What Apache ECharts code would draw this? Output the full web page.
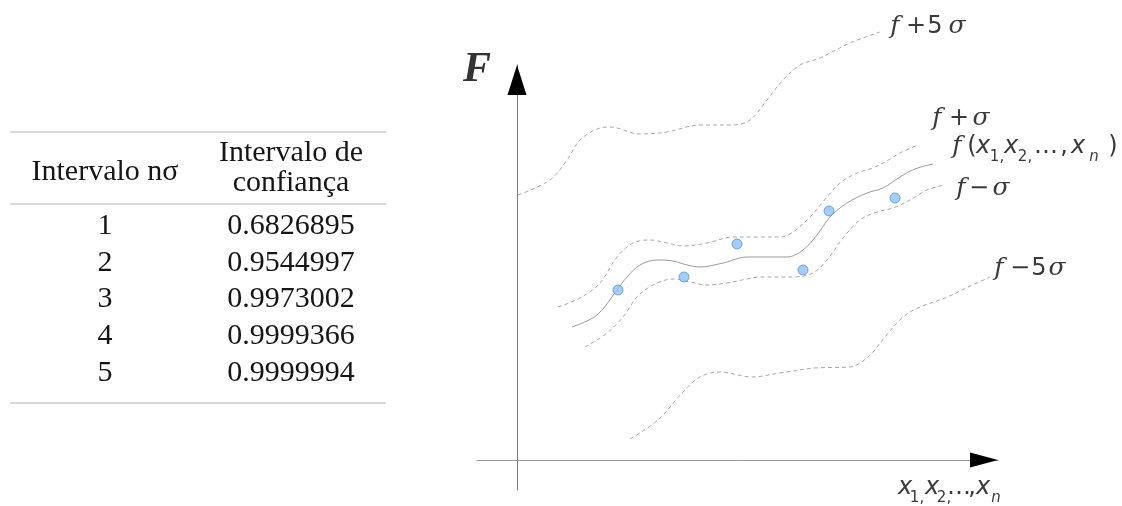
<!DOCTYPE html>
<html><head><meta charset="utf-8">
<script src="https://cdn.jsdelivr.net/npm/echarts@6/dist/echarts.min.js"></script>
<style>html,body{margin:0;padding:0;background:#fff}#c{width:1122px;height:506px}</style>
</head><body><div id="c"></div>
<script>
// ---- table data ----
const headerCol1 = 'Intervalo nσ';
const headerCol2 = ['Intervalo de', 'confiança'];
const nSigma = ['1', '2', '3', '4', '5'];
const confidence = ['0.6826895', '0.9544997', '0.9973002', '0.9999366', '0.9999994'];

// ---- diagram data (x, F) ----
const curvePlus5 = [[0.1,26.5],[3.3,28],[5,30],[6.3,32],[8.3,33.2],[9.3,33.3],[12.3,32.6],[15,32.8],[18.3,33.5],[21.6,33.5],[23.3,34],[25,36],[26.6,38],[28.3,39.5],[30.3,40.2],[33.3,41.7],[36.3,42.8]];
const curvePlus1 = [[4.1,15.3],[6.3,16.2],[8.3,17.7],[10,20.3],[11.6,21.7],[13.3,22],[15,21.7],[16.6,21.4],[19,21.7],[21.6,22.3],[24,22.3],[26.3,22.3],[27.6,22.8],[29.3,24.3],[31,26.3],[32.3,27.7],[34,28.7],[35.3,29.1],[36.8,29.8],[38.3,30.7],[40.1,31.5]];
const curveF = [[5.5,13.3],[8,14.5],[10,17],[11,18.3],[12.3,19.5],[14,20],[15.6,19.9],[17,19.5],[18.3,19.3],[20.6,19.7],[23,20.3],[27,20.3],[28.6,21],[30,22.5],[31.3,24.3],[33,25.7],[35,26.7],[36.6,27.2],[38.3,28.3],[39.8,29.1],[41.6,29.6]];
const curveMinus1 = [[6.8,11.3],[9,12.7],[10.6,14.3],[12,16.3],[13.6,17.5],[15.6,18.1],[17.3,17.8],[19,17.5],[21,17.7],[23,18.1],[24.3,18.3],[27.6,18.3],[29.6,18.7],[31,20],[32.6,22.2],[34.3,24],[36,24.8],[37.6,25.2],[39.3,26],[41,27],[42.8,27.5]];
const curveMinus5 = [[11.3,2.1],[14.1,4],[16.5,6.7],[18.3,8.3],[20.3,8.8],[23.5,8.3],[26.3,8.7],[29.8,9.2],[33.3,9.3],[35.1,10.3],[36.8,12.3],[38.6,14.3],[40.3,15.3],[42.8,16.2],[44.9,17.2],[47.3,18.3]];
const samplePoints = [[10.1,17],[16.7,18.3],[22,21.6],[28.6,19],[31.2,24.9],[37.8,26.2]];

const X_MIN = -4, X_MAX = 48.1, Y_MIN = -3, Y_MAX = 39.5;

const chart = echarts.init(document.getElementById('c'), null, {renderer: 'canvas'});
const dashed = {color: '#a9a9a9', width: 1, type: [4, 3]};
function curve(name, data, ls) {
  return {name, type: 'line', data, smooth: 0.35, showSymbol: false, symbol: 'none',
    clip: false, lineStyle: ls, silent: true, z: 2};
}
const hiddenAxisParts = {axisTick: {show: false}, axisLabel: {show: false}, splitLine: {show: false}};

chart.setOption({
  animation: false,
  backgroundColor: '#fff',
  grid: {left: 477, right: 124, top: 65, bottom: 16},
  xAxis: Object.assign({type: 'value', min: X_MIN, max: X_MAX,
    axisLine: {show: true, onZero: true, lineStyle: {color: '#9a9a9a', width: 1}}}, hiddenAxisParts),
  yAxis: Object.assign({type: 'value', min: Y_MIN, max: Y_MAX,
    axisLine: {show: true, onZero: true, lineStyle: {color: '#7a7a7a', width: 1}}}, hiddenAxisParts),
  series: [
    curve('f+5σ', curvePlus5, dashed),
    curve('f+σ', curvePlus1, dashed),
    curve('f', curveF, {color: '#9c9c9c', width: 1, type: 'solid'}),
    curve('f-σ', curveMinus1, dashed),
    curve('f-5σ', curveMinus5, dashed),
    {type: 'scatter', data: samplePoints, symbolSize: 10, silent: true, z: 3,
      itemStyle: {color: '#8cc2f5', borderColor: '#5b90c8', borderWidth: 1}}
  ]
});

// ---- graphics: table, labels, arrowheads ----
const g = [];
const SERIF = "'Liberation Serif', 'Times New Roman', serif";
function tText(str, cx, baseline) {
  g.push({type: 'text', x: cx, y: baseline - 10, silent: true,
    style: {text: str, font: '30px ' + SERIF, fill: '#161616', align: 'center', verticalAlign: 'middle'}});
}
function hLine(y) {
  g.push({type: 'line', silent: true, shape: {x1: 10, y1: y, x2: 386, y2: y},
    style: {stroke: '#dadada', lineWidth: 2}});
}
hLine(132); hLine(204); hLine(403);
tText(headerCol1, 105, 182);
tText(headerCol2[0], 291, 163);
tText(headerCol2[1], 291, 193);
nSigma.forEach((n, i) => {
  const b = 236 + 36.8 * i;
  tText(n, 105, b);
  tText(confidence[i], 291, b);
});

// math pieces
const MATH = '#3a3a3a';
function piece(str, cx, baseline, kind) {
  let font, fs, yb = baseline;
  if (kind === 'f') { fs = 25; font = 'italic 25px "DejaVu Serif"'; }
  else if (kind === 's') { fs = 25; font = 'italic 25px "DejaVu Serif"'; }
  else if (kind === 'x') { fs = 24; font = 'italic 24px "DejaVu Sans"'; }
  else if (kind === 'sub') { fs = 15; font = 'italic 15px "DejaVu Sans"'; yb = baseline + 7; }
  else if (kind === 'subn') { fs = 15; font = '15px "DejaVu Sans"'; yb = baseline + 7; }
  else { fs = 24; font = '24px "DejaVu Sans"'; }
  g.push({type: 'text', x: cx, y: yb - 0.346 * fs, silent: true,
    style: {text: str, font, fill: MATH, align: 'center', verticalAlign: 'middle'}});
}
function label(parts, baseline) { parts.forEach(p => piece(p[0], p[1], baseline, p[2])); }

label([['f', 895, 'f'], ['+', 916], ['5', 935], ['σ', 957, 's']], 35);
label([['f', 937, 'f'], ['+', 959], ['σ', 981, 's']], 127);
label([['f', 957, 'f'], ['(', 972], ['x', 983, 'x'], ['1,', 997, 'subn'], ['x', 1011, 'x'], ['2,', 1025, 'subn'],
       ['…', 1046], [',', 1064], ['x', 1078, 'x'], ['n', 1094, 'sub'], [')', 1113]], 155);
label([['f', 961, 'f'], ['−', 979], ['σ', 1001, 's']], 197);
label([['f', 999, 'f'], ['−', 1020], ['5', 1039], ['σ', 1057, 's']], 277);
label([['x', 905, 'x'], ['1,', 917, 'subn'], ['x', 932, 'x'], ['2,', 944, 'subn'], ['…', 959], [',', 972],
       ['x', 983, 'x'], ['n', 996, 'sub']], 496);

// F axis title
g.push({type: 'text', x: 477, y: 70, silent: true,
  style: {text: 'F', font: 'italic bold 42px ' + SERIF, fill: '#333', align: 'center', verticalAlign: 'middle'}});

// arrowheads at axis ends (via scales)
const yTip = chart.convertToPixel({xAxisIndex: 0, yAxisIndex: 0}, [0, Y_MAX]);
const xTip = chart.convertToPixel({xAxisIndex: 0, yAxisIndex: 0}, [X_MAX, 0]);
g.push({type: 'polygon', silent: true, z: 10,
  shape: {points: [[yTip[0], yTip[1]], [yTip[0] - 9.5, yTip[1] + 30], [yTip[0] + 9.5, yTip[1] + 30]]},
  style: {fill: '#000'}});
g.push({type: 'polygon', silent: true, z: 10,
  shape: {points: [[xTip[0], xTip[1]], [xTip[0] - 28, xTip[1] - 7.5], [xTip[0] - 28, xTip[1] + 7.5]]},
  style: {fill: '#000'}});

chart.setOption({graphic: g});
</script>
</body></html>
